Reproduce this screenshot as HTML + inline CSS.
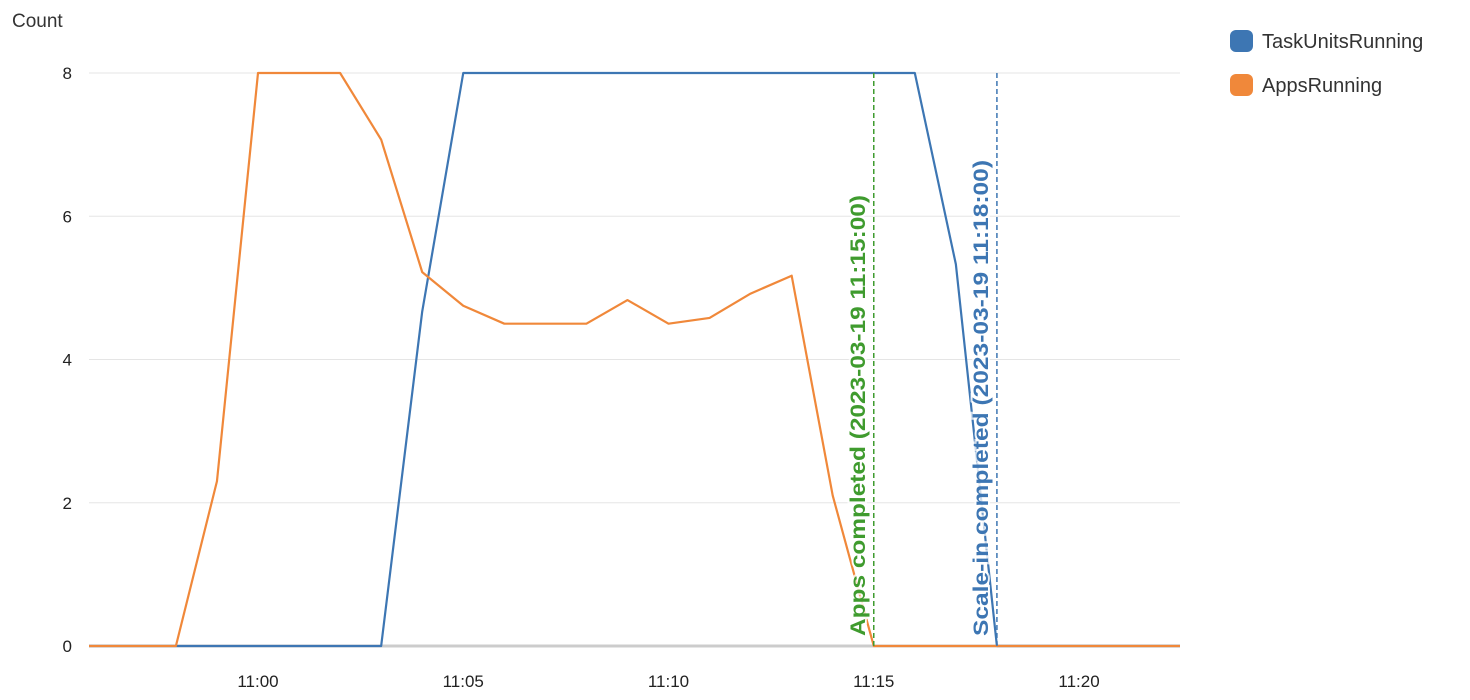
<!DOCTYPE html>
<html><head><meta charset="utf-8">
<style>
body{margin:0;background:#fff;width:1470px;height:700px;overflow:hidden;font-family:"Liberation Sans",sans-serif;}
svg{display:block}
</style></head>
<body>
<svg id="chart" width="1470" height="700"></svg>
<script>
const minutes = [56,57,58,59,60,61,62,63,64,65,66,67,68,69,70,71,72,73,74,75,76,77,78,79,80,81,82];
const appsRunning = [0,0,0,2.3,8,8,8,7.07,5.22,4.75,4.5,4.5,4.5,4.83,4.5,4.58,4.92,5.17,2.1,0,0,0,0,0,0,0,0];
const taskUnitsRunning = [0,0,0,0,0,0,0,0,4.67,8,8,8,8,8,8,8,8,8,8,8,8,5.33,0,0,0,0,0];
const yTicks = [0,2,4,6,8];
const xTickMinutes = [60,65,70,75,80];
const xTickLabels = ["11:00","11:05","11:10","11:15","11:20"];
const annotations = [{m:75,label:"Apps completed (2023-03-19 11:15:00)",color:"#3f9b2e",len:441},{m:78,label:"Scale-in completed (2023-03-19 11:18:00)",color:"#3d76b3",len:476}];
const xMin=55.883, xMax=82.46;
const L=89,R=1180,T=73,B=646;
const x=m=>L+(m-xMin)/(xMax-xMin)*(R-L);
const y=v=>B-(v/8)*(B-T);
const svg=document.getElementById('chart');
const NS='http://www.w3.org/2000/svg';
function mk(tag,attrs,parent){const e=document.createElementNS(NS,tag);for(const k in attrs)e.setAttribute(k,attrs[k]);(parent||svg).appendChild(e);return e;}
let t=mk('text',{x:12,y:27,'font-size':19,fill:'#333'});t.textContent='Count';


yTicks.forEach(v=>{
 const g=mk('line',{x1:L,x2:R,y1:y(v),y2:y(v),stroke:v===0?'#ccc':'#e5e5e5','stroke-width':v===0?3:1});
 
 
 const tx=mk('text',{x:72,y:y(v)+6,'font-size':17,fill:'#222','text-anchor':'end'});tx.textContent=v;
 
 
});
xTickMinutes.forEach((m,i)=>{
 const tx=mk('text',{x:x(m),y:687,'font-size':17,fill:'#222','text-anchor':'middle'});tx.textContent=xTickLabels[i];
 
 
});
function series(vals,color,name){
 const pts=[[x(xMin),y(vals[0])]].concat(minutes.map((m,i)=>[x(m),y(vals[i])])).concat([[x(xMax),y(vals[vals.length-1])]]);
 const p=mk('polyline',{points:pts.map(p=>p.join(',')).join(' '),fill:'none',stroke:color,'stroke-width':2.2,'stroke-linejoin':'round'});
 
 
}
series(taskUnitsRunning,'#3d76b3','task-units-running-line');
series(appsRunning,'#f0883a','apps-running-line');
annotations.forEach(a=>{
 const X=x(a.m);
 const l=mk('line',{x1:X,x2:X,y1:T,y2:B,stroke:a.color,'stroke-width':1.5,'stroke-dasharray':'5,3'});
 
 
 const tx=mk('text',{x:0,y:0,transform:`translate(${X-9},636) rotate(-90)`,'font-size':21,'font-weight':'bold',fill:a.color,stroke:'rgba(255,255,255,0.75)','stroke-width':4,'paint-order':'stroke',textLength:a.len,lengthAdjust:'spacingAndGlyphs'});
 tx.textContent=a.label;
 
 
});
[["TaskUnitsRunning","#3d76b3",41],["AppsRunning","#f0883a",85]].forEach(([n,c,yy])=>{
 const g=mk('g',{});
 
 
 mk('rect',{x:1230,y:yy-11,width:23,height:22,rx:6,fill:c},g);
 const tx=mk('text',{x:1262,y:yy+7,'font-size':20,fill:'#333'},g);tx.textContent=n;
});
</script>
</body></html>
